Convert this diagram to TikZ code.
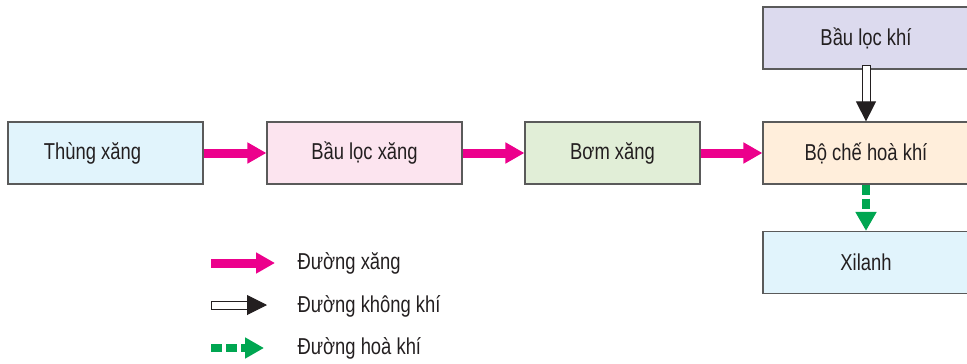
\documentclass[tikz,border=0pt]{standalone}
\usepackage{fontspec}
\setmainfont{Liberation Sans}[FakeStretch=0.8]
\usetikzlibrary{arrows.meta}

\definecolor{fuelpink}{HTML}{EC008C}
\definecolor{mixgreen}{HTML}{00A651}
\definecolor{boxline}{HTML}{5A5A5A}
\definecolor{txt}{HTML}{231F20}

\begin{document}
\begin{tikzpicture}[x=1pt,y=-1pt,
	unit/.style={draw=boxline,line width=1.2pt,minimum height=62pt,inner sep=0pt,
		text=txt,font=\fontsize{23}{26}\selectfont},
	fuelflow/.style={fuelpink,line width=9pt,-{Triangle[length=19pt,width=20pt]}},
	airflow/.style={draw=txt,line width=1pt,double=white,double distance=7pt,line cap=rect,
		-{Triangle[length=20pt,width=20pt,fill=txt]}},
	mixflow/.style={mixgreen,line width=8pt,dash pattern=on 10pt off 4pt,
		-{Triangle[length=19pt,width=20pt]}},
	legendtext/.style={anchor=west,text=txt,font=\fontsize{23}{26}\selectfont}]
	\useasboundingbox (0,0) rectangle (967,364);
	\node[unit,fill={rgb,255:red,225;green,244;blue,252},minimum width=195pt] (tank) at (105.5,153) {Thùng xăng\kern26pt};
	\node[unit,fill={rgb,255:red,252;green,228;blue,239},minimum width=195pt] (fuelfilter) at (364.5,153) {Bầu lọc xăng};
	\node[unit,fill={rgb,255:red,225;green,238;blue,215},minimum width=175pt] (pump) at (612.5,153) {Bơm xăng};
	\node[unit,fill={rgb,255:red,255;green,238;blue,219},minimum width=206pt] (carb) at (866,153) {Bộ chế hoà khí};
	\node[unit,fill={rgb,255:red,220;green,218;blue,238},minimum width=206pt] (airfilter) at (866,38) {Bầu lọc khí};
	\node[unit,fill={rgb,255:red,225;green,244;blue,252},minimum width=206pt] (cylinder) at (866,262.5) {Xilanh};
	% main lines
	\draw[fuelflow] (tank.east) -- (fuelfilter.west);
	\draw[fuelflow] (fuelfilter.east) -- (pump.west);
	\draw[fuelflow] (pump.east) -- (carb.west);
	\draw[airflow] (airfilter.south) -- (carb.north);
	\draw[mixflow] (carb.south) -- (cylinder.north);
	% legend
	\coordinate (fuelA) at (211,263);
	\coordinate (fuelB) at (275,263);
	\coordinate (airA) at (215,305);
	\coordinate (airB) at (267,305);
	\coordinate (mixA) at (211,348);
	\coordinate (mixB) at (264,348);
	\draw[fuelflow] (fuelA) -- (fuelB);
	\draw[airflow] (airA) -- (airB);
	\draw[mixflow,dash pattern=on 11pt off 4pt] (mixA) -- (mixB);
	\node[legendtext] (fueltext) at (294,263) {Đường xăng};
	\node[legendtext] (airtext) at (294,306) {Đường không khí};
	\node[legendtext] (mixtext) at (294,348) {Đường hoà khí};
\end{tikzpicture}
\end{document}
